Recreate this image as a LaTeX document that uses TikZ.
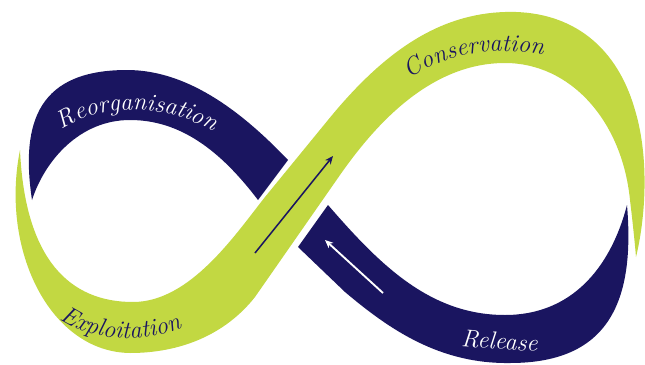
\documentclass[tikz,border=0pt]{standalone}
\usepackage{tikz}
\usetikzlibrary{decorations.text,arrows.meta}
\definecolor{cyclegreen}{RGB}{194,216,66}
\definecolor{cyclenavy}{RGB}{26,21,96}

\begin{document}
\begin{tikzpicture}[x=0.03cm, y=-0.03cm]
\newcommand{\lblfont}{\fontsize{21}{25}\selectfont\itshape}; % label font
\useasboundingbox (0,0) rectangle (645,364);

% arrow end points
\coordinate (AL) at (255,253);
\coordinate (AU) at (333,156);
\coordinate (BL) at (383,293);
\coordinate (BU) at (325,240);

% green band
\fill[cyclegreen] (20,150) .. controls (0,250) and (50,352) .. (130,353)
  .. controls (180,353) and (225,335) .. (255,297) -- (340,175)
  .. controls (375,125) and (430,63) .. (505,63)
  .. controls (570,63) and (622,120) .. (630,200)
  .. controls (633,225) and (635,245) .. (636,257)
  .. controls (645,220) and (650,160) .. (635,110)
  .. controls (615,40) and (565,10) .. (505,12)
  .. controls (440,14) and (385,50) .. (328,120) -- (265,197)
  .. controls (235,235) and (190,302) .. (133,302)
  .. controls (70,302) and (25,260) .. (20,150) -- cycle;

% navy band, upper left part
\fill[cyclenavy] (32,200) .. controls (20,120) and (40,70) .. (127,70)
  .. controls (190,70) and (245,115) .. (288,160) -- (258,200)
  .. controls (220,150) and (180,120) .. (130,120)
  .. controls (80,120) and (45,160) .. (32,200) -- cycle;

% navy band, lower right part
\fill[cyclenavy] (298,247) -- (328,205)
  .. controls (380,265) and (430,315) .. (505,315)
  .. controls (570,315) and (610,270) .. (627,205)
  .. controls (635,300) and (610,363) .. (510,363)
  .. controls (440,364) and (390,330) .. (345,292) -- cycle;
%

% labels
\path[decorate, decoration={text along path, text align=center, text color=white,
  text={|\lblfont|Reorganisation}}] (45,147) .. controls (75,100) and (180,95) .. (232,147);
\path[decorate, decoration={text along path, text align=center, text color=cyclenavy,
  text={|\lblfont|Conservation}}] (395,92) .. controls (430,55) and (500,40) .. (562,60);
\path[decorate, decoration={text along path, text align=center, text color=cyclenavy,
  text={|\lblfont|Exploitation}}] (43,305) .. controls (85,347) and (150,347) .. (202,318);
\node[white, font=\lblfont, rotate=-4, anchor=base] (rel) at (499,349) {Release};

% arrows
\draw[cyclenavy, line width=1.3pt, -{Stealth[length=7pt, width=6pt]}] (AL) -- (AU);
\draw[white, line width=1.6pt, -{Stealth[length=7pt, width=6pt]}] (BL) -- (BU);
\end{tikzpicture}
\end{document}
